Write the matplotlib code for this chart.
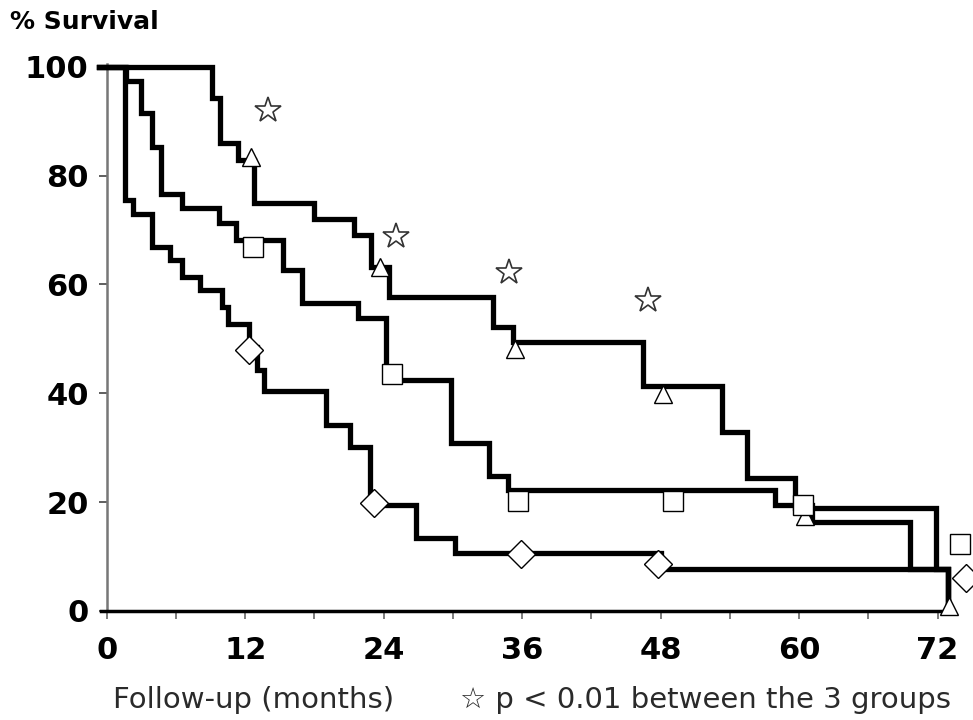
import matplotlib
matplotlib.use('Agg')
import matplotlib.pyplot as plt
import numpy as np

plt.rcParams['font.family'] = ['DejaVu Sans']

# Kaplan-Meier step curves (months, % survival)
tri_t = [-0.7, 9.1, 9.8, 11.4, 12.8, 18.0, 21.4, 22.9, 24.5, 33.5, 35.2, 46.5, 53.3, 55.5, 59.6, 71.9, 72.9]
tri_s = [100, 94.2, 85.9, 82.9, 74.9, 72.1, 69.1, 63.2, 57.7, 52.2, 49.4, 41.3, 32.8, 24.5, 19.0, 7.7, 0]

sq_t = [-0.7, 1.7, 3.0, 3.9, 4.7, 6.5, 9.7, 11.2, 15.3, 16.9, 21.8, 24.2, 29.8, 33.1, 34.8, 57.9, 61.1, 69.6, 72.9]
sq_s = [100, 97.3, 91.5, 85.3, 76.7, 74.0, 71.2, 68.1, 62.6, 56.5, 53.9, 42.4, 30.8, 24.8, 22.2, 19.5, 16.3, 7.7, 0]

dia_t = [-0.7, 1.6, 2.3, 3.9, 5.5, 6.5, 8.1, 10.0, 10.5, 12.3, 13.0, 13.6, 19.0, 21.1, 22.8, 26.8, 30.2, 48.0, 72.9]
dia_s = [100, 75.5, 73.0, 66.9, 64.5, 61.4, 58.9, 55.9, 52.8, 48.5, 44.2, 40.5, 34.1, 30.1, 19.5, 13.5, 10.7, 7.7, 0]

# censored / group markers
tri_mx = [12.5, 23.7, 35.4, 48.2, 60.5, 73.0]
tri_my = [83.5, 63.2, 48.2, 39.9, 17.5, 1.0]
sq_mx = [12.7, 24.7, 35.6, 49.1, 60.3, 73.9]
sq_my = [66.9, 43.6, 20.3, 20.3, 19.5, 12.3]
dia_mx = [12.3, 23.2, 35.9, 47.8, 74.5]
dia_my = [47.9, 19.9, 10.4, 8.6, 6.1]

# significance stars
star_x = [14.0, 25.1, 34.9, 46.9]
star_y = [92.1, 68.9, 62.2, 57.1]

xticks = [0, 12, 24, 36, 48, 60, 72]
yticks = [0, 20, 40, 60, 80, 100]

fig = plt.figure(figsize=(9.73, 7.2), dpi=100)
ax = fig.add_axes([0.1097, 0.1514, 0.8646, 0.7597])

for t, s in [(dia_t, dia_s), (sq_t, sq_s), (tri_t, tri_s)]:
    ax.step(t, s, where='post', color='black', lw=3.8, solid_joinstyle='miter', clip_on=False, zorder=3)

mk = dict(mfc='white', mec='black', mew=1.0, ls='none', clip_on=False, zorder=4)
ax.plot(tri_mx, tri_my, marker='^', ms=13, **mk)
ax.plot(sq_mx, sq_my, marker='s', ms=14, **mk)
ax.plot(dia_mx, dia_my, marker='D', ms=14, **mk)
ax.plot(star_x, star_y, marker='*', ms=19, mfc='white', mec='#333333', mew=1.2,
        ls='none', clip_on=False, zorder=4)

ax.set_xlim(0, 72.9)
ax.set_ylim(0, 100.5)
ax.spines['top'].set_visible(False)
ax.spines['right'].set_visible(False)
ax.spines['left'].set_color('#777777')
ax.spines['left'].set_linewidth(1.8)
ax.spines['bottom'].set_linewidth(2.5)
ax.spines['bottom'].set_bounds(-0.5, 72.3)

ax.set_xticks(xticks)
ax.set_xticks(np.arange(0, 73, 6), minor=True)
ax.set_yticks(yticks)
ax.tick_params(axis='x', which='both', direction='out', length=6, width=1.2, color='#666666')
ax.tick_params(axis='y', direction='out', length=6, width=1.2, color='#444444')
ax.tick_params(axis='x', labelsize=22, pad=12)
ax.tick_params(axis='y', labelsize=22, pad=7)
for lab in ax.get_xticklabels() + ax.get_yticklabels():
    lab.set_fontweight('bold')

fig.text(0.010, 0.969, '% Survival', fontsize=18, fontweight='bold', ha='left', va='center')
fig.text(0.116, 0.028, 'Follow-up (months)', fontsize=21, color='#2a2a2a', ha='left', va='center')
fig.text(0.473, 0.028, '\u2606 p < 0.01 between the 3 groups', fontsize=21, color='#2a2a2a',
         ha='left', va='center')

fig.savefig('out.png', dpi=100)
